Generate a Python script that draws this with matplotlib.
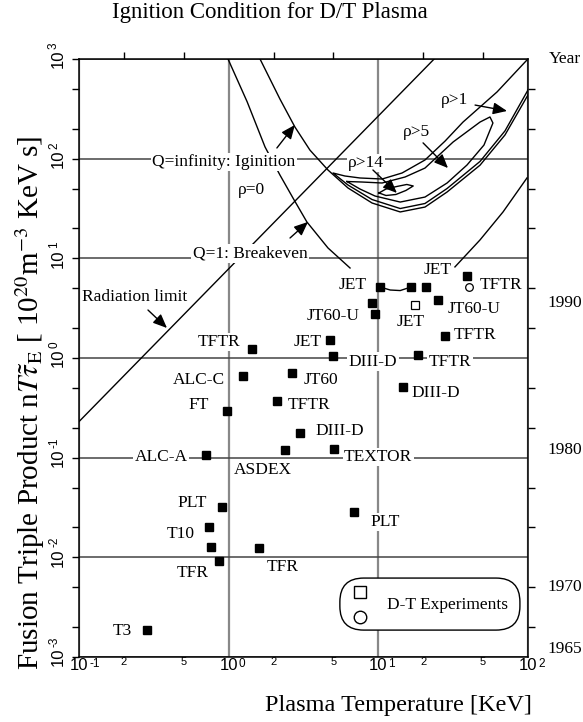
import matplotlib

matplotlib.use("Agg")

import matplotlib.pyplot as plt
from matplotlib.patches import FancyBboxPatch
from matplotlib.ticker import LogLocator
from matplotlib.transforms import offset_copy

SERIF = "Liberation Serif"
SANS = "Liberation Sans"

# all curves: plasma temperature [keV] vs n T tau_E [1e20 m^-3 keV s]
rad_T = [0.1, 23.6]
rad_N = [0.23, 1000]

break_left_T = [0.99, 1.33, 1.75, 2.2, 2.69, 3.33, 4.61, 6.47]
break_left_N = [1000, 371, 131, 68.6, 40.3, 23.2, 12.7, 8.0]
break_right_T = [32.5, 47.8, 68.1, 98.4]
break_right_N = [8.2, 15.3, 29.2, 64]

ignition_T = [1.62, 2.20, 2.77, 3.49, 4.61, 6.27, 9.08, 14.0, 20.5, 28.8, 47.8, 70.2, 100]
ignition_N = [1000, 397, 208, 122, 76.9, 50.8, 35.9, 29.2, 32.7, 46.3, 86, 173, 436]

rho1_T = [100, 70.2, 47.8, 28.8, 20.5, 14.0, 9.08, 6.27, 4.98, 5.98, 7.54, 10.6, 14.4, 20.5, 27.9, 36.8, 62.1, 98.4]
rho1_N = [489, 190, 93.8, 50.2, 35.5, 31.6, 38.9, 54.4, 71.8, 67.0, 64.0, 62.5, 71.8, 97.0, 150, 233, 467, 977]

rho5_T = [6.17, 7.78, 10.6, 15.1, 20.5, 31.6, 47.8, 55.7, 58.3, 50.8, 39.1, 28.8, 20.5, 14.0, 9.5, 7.54, 6.17]
rho5_N = [59.0, 58.3, 57.0, 65.5, 80.5, 147, 233, 262, 228, 137, 86.3, 57.0, 41.2, 36.7, 42.2, 49.6, 59.0]

rho14_T = [10.1, 11.25, 13.3, 15.5, 17.1, 15.3, 13.1, 11.25, 10.1]
rho14_N = [45.3, 49.6, 52.6, 55.1, 53.2, 48.0, 43.7, 42.7, 45.3]

jet_link_T = [10.3, 12.0, 14.0, 16.5]
jet_link_N = [5.15, 4.81, 4.75, 5.15]

# experiments (filled squares)
exp_names = ["TFTR", "ALC-C", "FT", "ALC-A", "ASDEX", "PLT", "T10", "", "TFR", "TFR",
             "T3", "TFTR", "JT60", "DIII-D", "JET", "DIII-D", "TFTR", "DIII-D", "TEXTOR", "PLT",
             "TFTR", "JET", "", "JET", "", "", "JT60-U", "JT60-U"]
exp_T = [1.43, 1.25, 0.975, 0.706, 2.38, 0.90, 0.74, 0.762, 0.862, 1.59,
         0.284, 2.10, 2.65, 3.0, 4.75, 4.98, 18.4, 14.6, 5.06, 6.87,
         27.9, 10.3, 16.5, 20.8, 39.1, 9.08, 9.5, 25.1]
exp_N = [1.23, 0.66, 0.294, 0.106, 0.119, 0.032, 0.0201, 0.0127, 0.0092, 0.0124,
         0.00187, 0.371, 0.708, 0.177, 1.52, 1.05, 1.07, 0.51, 0.122, 0.0285,
         1.66, 5.15, 5.15, 5.15, 6.65, 3.57, 2.77, 3.82]

# D-T experiments (open markers)
dt_sq_name, dt_sq_T, dt_sq_N = ["JET"], [17.6], [3.41]
dt_ci_name, dt_ci_T, dt_ci_N = ["TFTR"], [40.4], [5.15]

# label placement relative to the marker, pixels (layout only)
exp_offsets = [(-33, 7), (-44, -4), (-28, 6), (-45, -2), (-22, -20), (-30, 4), (-28, -7), (0, 0),
               (-26, -12), (24, -19), (-25, -1), (32, -4), (29, -7), (40, 2), (-22, -2), (40, -6),
               (32, -7), (33, -6), (44, -8), (31, -10), (30, 1), (-28, 2), (0, 0), (12, 17),
               (0, 0), (0, 0), (-42, -2), (36, -9)]
dt_sq_offsets = [(-4, -17)]
dt_ci_offsets = [(32, 2)]

# curve annotations: text, text position, arrow tail, arrow head
curve_labels = ["Q=infinity: Iginition", "\u03c1=0", "Q=1: Breakeven", "Radiation limit",
                "\u03c1>14", "\u03c1>5", "\u03c1>1"]
curve_label_pos = [(0.93, 92.7), (1.41, 48.5), (1.39, 11.1), (0.237, 4.1),
                   (8.27, 90.6), (18.1, 185), (32.5, 388)]
arrow_tail = [(2.10, 128), None, (2.57, 16.0), (0.289, 3.03), (9.2, 77), (19.9, 144), (44.3, 345)]
arrow_head = [(2.77, 218), None, (3.39, 23.2), (0.387, 2.0), (13.3, 45.3), (29.2, 80.5), (72.4, 301)]

# ticks and the year scale on the right
xmaj = [0.1, 1, 10, 100]
xmaj_exp = ["-1", "0", "1", "2"]
xmin = [0.2, 0.5, 2, 5, 20, 50]
xmin_lab = ["2", "5", "2", "5", "2", "5"]
ymaj = [1e-3, 1e-2, 1e-1, 1, 10, 100, 1000]
ymaj_exp = ["-3", "-2", "-1", "0", "1", "2", "3"]
year_labels = ["Year", "1990", "1980", "1970", "1965"]
year_levels = [1000, 3.6, 0.12, 0.005, 0.0012]

fig = plt.figure(figsize=(5.83, 7.22), dpi=100)
ax = fig.add_axes([79 / 583, 65 / 722, 449 / 583, 598 / 722])
ax.set_xscale("log")
ax.set_yscale("log")
ax.set_xlim(0.1, 100)
ax.set_ylim(1e-3, 1e3)

ax.set_axisbelow(True)
ax.grid(True, which="major", axis="y", color="#444444", lw=1.1)
ax.grid(True, which="major", axis="x", color="#888888", lw=1.6)
for sp in ax.spines.values():
    sp.set_linewidth(1.1)

ax.xaxis.set_minor_locator(LogLocator(base=10, subs=(2, 5), numticks=20))
ax.yaxis.set_minor_locator(LogLocator(base=10, subs=(2, 5), numticks=20))
ax.tick_params(which="both", labelbottom=False, labelleft=False, direction="out", length=5, width=1)
ax.tick_params(axis="x", which="major", bottom=False, top=False)
ax.tick_params(axis="x", which="minor", bottom=False, top=True)
ax.tick_params(axis="y", which="major", left=True, right=False)
ax.tick_params(axis="y", which="minor", left=True, right=True)

# curves
line_kw = dict(color="black", lw=1.0, zorder=3)
ax.plot(rad_T, rad_N, **line_kw)
ax.plot(break_left_T, break_left_N, **line_kw)
ax.plot(break_right_T, break_right_N, **line_kw)
ax.plot(ignition_T, ignition_N, **line_kw)
ax.plot(rho1_T, rho1_N, **line_kw)
ax.plot(rho5_T, rho5_N, **line_kw)
ax.plot(rho14_T, rho14_N, **line_kw)
ax.plot(jet_link_T, jet_link_N, **line_kw)

# experiments
ax.plot(exp_T, exp_N, ls="none", marker="s", ms=6.2, color="black", zorder=6)
ax.plot(dt_sq_T, dt_sq_N, ls="none", marker="s", ms=5.5, mfc="white", mec="black", mew=0.9, zorder=6)
ax.plot(dt_ci_T, dt_ci_N, ls="none", marker="o", ms=5.5, mfc="white", mec="black", mew=0.9, zorder=6)

label_kw = dict(textcoords="offset pixels", ha="center", va="center", fontsize=12.5, family=SERIF,
                bbox=dict(fc="white", ec="none", pad=1.0), zorder=5)
for names, ts, ns, offs in [(exp_names, exp_T, exp_N, exp_offsets),
                            (dt_sq_name, dt_sq_T, dt_sq_N, dt_sq_offsets),
                            (dt_ci_name, dt_ci_T, dt_ci_N, dt_ci_offsets)]:
    for name, t, n, off in zip(names, ts, ns, offs):
        if name:
            ax.annotate(name, (t, n), xytext=off, **label_kw)

for txt, pos, tail, head in zip(curve_labels, curve_label_pos, arrow_tail, arrow_head):
    ax.text(pos[0], pos[1], txt, ha="center", va="center", fontsize=12.5, family=SERIF,
            bbox=dict(fc="white", ec="none", pad=1.0), zorder=5)
    if tail is not None:
        ax.annotate("", xy=head, xytext=tail, zorder=5,
                    arrowprops=dict(arrowstyle="-|>,head_length=0.7,head_width=0.3", color="black",
                                    lw=1.0, shrinkA=0, shrinkB=0, mutation_scale=12))

# tick labels (10 centred on the tick, exponent hanging off it)
xtr = ax.get_xaxis_transform()
for v, e in zip(xmaj, xmaj_exp):
    ax.text(v, 0, "10", transform=offset_copy(xtr, fig=fig, x=0, y=-1, units="dots"),
            ha="center", va="top", fontsize=12, family=SANS, clip_on=False)
    ax.text(v, 0, e, transform=offset_copy(xtr, fig=fig, x=10, y=-1, units="dots"),
            ha="left", va="top", fontsize=8.5, family=SANS, clip_on=False)
for v, lab in zip(xmin, xmin_lab):
    ax.text(v, 0, lab, transform=offset_copy(xtr, fig=fig, x=0, y=0, units="dots"),
            ha="center", va="top", fontsize=8, family=SANS, clip_on=False)

ytr = ax.get_yaxis_transform()
for v, e in zip(ymaj, ymaj_exp):
    ax.text(0, v, "10", transform=offset_copy(ytr, fig=fig, x=-13, y=0, units="dots"),
            rotation=90, ha="right", va="center", fontsize=12, family=SANS, clip_on=False)
    ax.text(0, v, e, transform=offset_copy(ytr, fig=fig, x=-31, y=10, units="dots"),
            rotation=90, ha="left", va="bottom", fontsize=8.5, family=SANS, clip_on=False)

for lab, lvl in zip(year_labels, year_levels):
    ax.text(1, lvl, lab, transform=offset_copy(ytr, fig=fig, x=37, y=0, units="dots"),
            ha="center", va="center", fontsize=12.5, family=SERIF, clip_on=False)

# legend box for the D-T experiments
ax.add_patch(FancyBboxPatch((0.581, 0.045), 0.401, 0.087, boxstyle="round,pad=0,rounding_size=0.053",
                            mutation_aspect=449 / 598, transform=ax.transAxes,
                            fc="white", ec="black", lw=1.0, zorder=7))
ax.plot([0.626], [0.109], marker="s", ms=9, mfc="white", mec="black", mew=1.0,
        transform=ax.transAxes, zorder=8)
ax.plot([0.626], [0.067], marker="o", ms=9, mfc="white", mec="black", mew=1.0,
        transform=ax.transAxes, zorder=8)
ax.text(0.686, 0.087, "D-T Experiments", transform=ax.transAxes, ha="left", va="center",
        fontsize=12.5, family=SERIF, zorder=8)

fig.text(270 / 583, 1 - 18 / 722, "Ignition Condition for D/T Plasma", ha="center", va="baseline",
         fontsize=16.5, family=SERIF)
fig.text(532 / 583, 1 - 705 / 722, "Plasma Temperature [KeV]", ha="right", va="center",
         fontsize=17.5, family=SERIF)
fig.text(30 / 583, 1 - 670 / 722,
         r"Fusion Triple Product n$T\tilde{\tau}_{\rm E}$ [ 10$^{20}$m$^{-3}$ KeV s]",
         rotation=90, ha="center", va="bottom", fontsize=21, family=SERIF, math_fontfamily="stix")

fig.savefig("out.png", dpi=100)
